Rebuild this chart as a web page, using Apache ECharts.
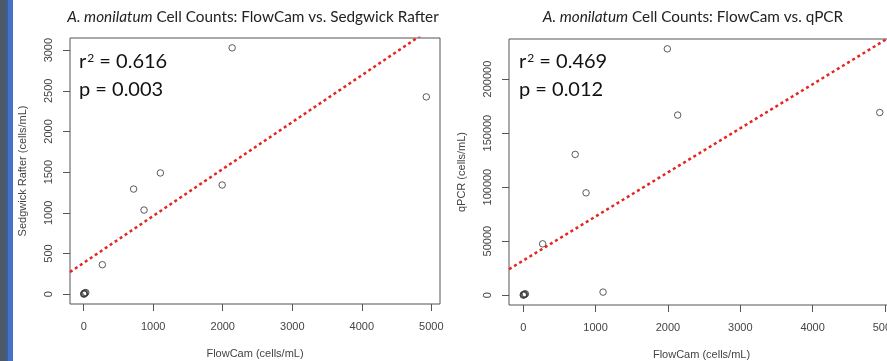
<!DOCTYPE html>
<html><head><meta charset="utf-8">
<script src="https://cdn.jsdelivr.net/npm/echarts@6/dist/echarts.min.js"></script>
<style>html,body{margin:0;padding:0;background:#fff}#c{width:887px;height:361px}</style>
</head><body><div id="c"></div>
<script>
// ---- data ----
const flowCam  = [0, 4, 10, 18, 30, 268, 718, 868, 1103, 1992, 2135, 4928];
const sedgwick = [0, 8, 4, 15, 20, 362, 1292, 1034, 1490, 1342, 3028, 2425];
const qpcr     = [0, 600, 300, 900, 1200, 47500, 130300, 94700, 2800, 228000, 166700, 169100];
const fitSR = { intercept: 385, slope: 0.5766 };
const fitQ  = { intercept: 32060, slope: 40.8 };
const xTicks   = [0, 1000, 2000, 3000, 4000, 5000];
const ySRTicks = [0, 500, 1000, 1500, 2000, 2500, 3000];
const yQTicks  = [0, 50000, 100000, 150000, 200000];
const statsSR = { r2: '0.616', p: '0.003' };
const statsQ  = { r2: '0.469', p: '0.012' };
const titleSR = ['A. monilatum', ' Cell Counts: FlowCam vs. Sedgwick Rafter'];
const titleQ  = ['A. monilatum', ' Cell Counts: FlowCam vs. qPCR'];

// R-style 4% axis extension
function ext(arr) {
  const mn = Math.min(...arr), mx = Math.max(...arr), r = mx - mn;
  return [mn - 0.04 * r, mx + 0.04 * r];
}
const xr = ext(flowCam), ySR = ext(sedgwick), yQ = ext(qpcr);

const FONT = 'Liberation Sans';
const TFONT = 'Lato';
function xAxis(gi) {
  return {
    type: 'value', gridIndex: gi, min: xr[0], max: xr[1],
    axisLine: { show: false, onZero: false }, splitLine: { show: false },
    axisTick: { show: true, customValues: xTicks, length: 7, lineStyle: { color: '#555' } },
    axisLabel: { customValues: xTicks, fontSize: 11, color: '#444', margin: 17, fontFamily: FONT, formatter: v => String(v) },
    name: 'FlowCam (cells/mL)', nameLocation: 'middle', nameGap: 44,
    nameTextStyle: { fontSize: 11, color: '#444', fontFamily: FONT }
  };
}
function yAxis(gi, r, ticks, name) {
  return {
    type: 'value', gridIndex: gi, min: r[0], max: r[1],
    axisLine: { show: false, onZero: false }, splitLine: { show: false },
    axisTick: { show: true, customValues: ticks, length: 7, lineStyle: { color: '#555' } },
    axisLabel: { customValues: ticks, fontSize: 11, color: '#444', margin: 16, rotate: 90,
      align: 'center', verticalAlign: 'bottom', fontFamily: FONT, formatter: v => String(v) },
    name: name, nameLocation: 'middle', nameGap: 42,
    nameTextStyle: { fontSize: 11, color: '#444', fontFamily: FONT }
  };
}
function pts(ys) { return flowCam.map((x, i) => [x, ys[i]]); }
function fitLine(f) { return [[xr[0], f.intercept + f.slope * xr[0]], [xr[1], f.intercept + f.slope * xr[1]]]; }
function scatter(gi, ys) {
  return { type: 'scatter', xAxisIndex: gi, yAxisIndex: gi, data: pts(ys), symbol: 'circle', symbolSize: 6.5,
    itemStyle: { color: 'rgba(255,255,255,0)', borderColor: '#333', borderWidth: 1 }, silent: true };
}
function line(gi, f) {
  return { type: 'line', xAxisIndex: gi, yAxisIndex: gi, data: fitLine(f), showSymbol: false, clip: true, silent: true,
    lineStyle: { color: '#e3261f', width: 2.5, type: [3, 3] }, z: 3 };
}
function stat(left, s) {
  return { left: left, top: 43, text: '{a|r}{s|2}{a| = ' + s.r2 + '}\n{a|p = ' + s.p + '}',
    textStyle: { rich: {
      a: { fontSize: 20, lineHeight: 28, color: '#111', fontFamily: TFONT, fontWeight: 'normal' },
      s: { fontSize: 12, lineHeight: 28, color: '#111', fontFamily: TFONT, fontWeight: 'normal', verticalAlign: 'top', padding: [4, 0, 0, 1] }
    } } };
}
function ttl(cx, t) {
  return { left: cx, top: 5, textAlign: 'center', text: '{i|' + t[0] + '}{n|' + t[1] + '}',
    textStyle: { rich: {
      i: { fontSize: 15.3, fontStyle: 'italic', fontWeight: 'normal', color: '#222', fontFamily: TFONT },
      n: { fontSize: 15.3, fontWeight: 'normal', color: '#222', fontFamily: TFONT }
    } } };
}

const chart = echarts.init(document.getElementById('c'), null, { renderer: 'canvas' });
chart.setOption({
  animation: false,
  backgroundColor: '#fff',
  title: [ttl(248, titleSR), ttl(688, titleQ), stat(74, statsSR), stat(514, statsQ)],
  grid: [
    { left: 70, top: 38, width: 370, height: 266, show: true, borderColor: '#555', borderWidth: 1, outerBoundsMode: 'none', containLabel: false },
    { left: 509, top: 39, width: 385, height: 266, show: true, borderColor: '#555', borderWidth: 1, outerBoundsMode: 'none', containLabel: false }
  ],
  xAxis: [xAxis(0), xAxis(1)],
  yAxis: [yAxis(0, ySR, ySRTicks, 'Sedgwick Rafter (cells/mL)'), yAxis(1, yQ, yQTicks, 'qPCR (cells/mL)')],
  series: [scatter(0, sedgwick), line(0, fitSR), scatter(1, qpcr), line(1, fitQ)],
  graphic: [
    { type: 'rect', shape: { x: 0, y: 0, width: 6, height: 361 }, style: { fill: '#4b5a69' }, silent: true },
    { type: 'rect', shape: { x: 6, y: 0, width: 2, height: 361 }, style: { fill: '#3f5c96' }, silent: true },
    { type: 'rect', shape: { x: 8, y: 0, width: 5, height: 361 }, style: { fill: '#4472c4' }, silent: true }
  ]
});
</script></body></html>
